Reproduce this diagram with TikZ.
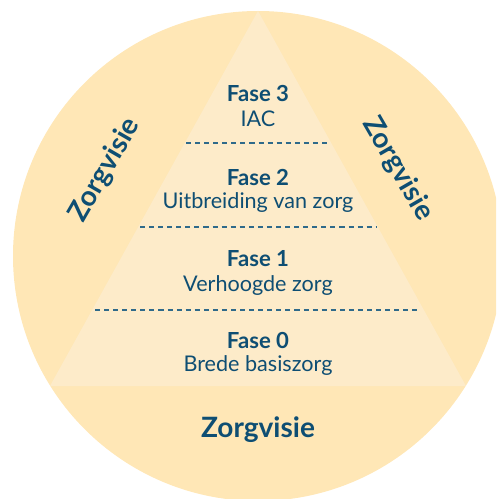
\documentclass[tikz,border=0pt]{standalone}
\usepackage{fontspec}
\setmainfont{Lato}
\usepackage{xcolor}
\usepackage{tikz}
\usetikzlibrary{positioning}

\definecolor{outer}{HTML}{FFE7B6}
\definecolor{inner}{HTML}{FDEBC9}
\definecolor{ink}{HTML}{0E4E73}
\definecolor{dashink}{HTML}{2F6A8A}

\begin{document}
\begin{tikzpicture} [x = 0.75pt, y = -0.75pt,
        fase/.style = {font = \bfseries\fontsize{16.6}{19}\selectfont, text = ink},
        sub/.style = {font = \fontsize{16.2}{19}\selectfont, text = ink},
        visie/.style = {font = \bfseries\fontsize{21}{24}\selectfont, text = ink},
        sep/.style = {dashink, line width = 0.8pt, dash pattern = on 3.8pt off 3pt}]

        \useasboundingbox (0,0) rectangle (496,499);
        \clip (0,0) rectangle (496,499);

        \coordinate (top) at (258,11); \coordinate (bl) at (50,386);
        \coordinate (br) at (466,386);

        \fill [outer] (258,256) circle [radius = 245];
        \fill [inner] (top) -- (bl) -- (br) -- cycle;

        \draw [sep] (186,143) -- (330,143);
        \draw [sep] (140,227) -- (376,227);
        \draw [sep] (95,310) -- (421,310);

        \node (f3) [fase] at (258,93) {Fase 3};
        \node (s3) [sub] at (258,119) {IAC};
        \node (f2) [fase] at (258,177) {Fase 2};
        \node (s2) [sub] at (258,203) {Uitbreiding van zorg};
        \node (f1) [fase] at (258,259) {Fase 1};
        \node (s1) [sub] at (258,286) {Verhoogde zorg};
        \node (f0) [fase] at (258,340) {Fase 0};
        \node (s0) [sub] at (258,366) {Brede basiszorg};

        \node (vl) [visie, rotate = 60] at (105,170) {Zorgvisie};
        \node (vr) [visie, rotate = -60] at (398,169) {Zorgvisie};
        \node (vb) [visie] at (258,430) {Zorgvisie};

    \end{tikzpicture}
\end{document}
